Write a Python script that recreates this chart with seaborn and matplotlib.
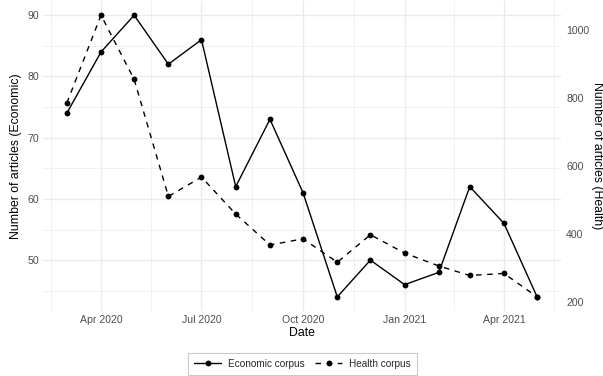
import matplotlib
matplotlib.use("Agg")
import matplotlib.pyplot as plt
import matplotlib.dates as mdates
from matplotlib.lines import Line2D
import numpy as np
import pandas as pd
import seaborn as sns

# ---- data ----
months = ["2020-03-01", "2020-04-01", "2020-05-01", "2020-06-01", "2020-07-01",
          "2020-08-01", "2020-09-01", "2020-10-01", "2020-11-01", "2020-12-01",
          "2021-01-01", "2021-02-01", "2021-03-01", "2021-04-01", "2021-05-01"]
economic = [74, 84, 90, 82, 86, 62, 73, 61, 44, 50, 46, 48, 62, 56, 44]
health = [785, 1044, 855, 510, 567, 458, 367, 385, 316, 397, 343, 305, 277, 283, 214]
x_tick_dates = ["2020-04-01", "2020-07-01", "2020-10-01", "2021-01-01", "2021-04-01"]
x_tick_labels = ["Apr 2020", "Jul 2020", "Oct 2020", "Jan 2021", "Apr 2021"]
econ_ticks = [50, 60, 70, 80, 90]
health_ticks = [200, 400, 600, 800, 1000]
series_labels = ["Economic corpus", "Health corpus"]

df = pd.DataFrame({"date": pd.to_datetime(months), "economic": economic, "health": health})

sns.set_theme(style="white")
plt.rcParams["font.family"] = ["Liberation Sans", "DejaVu Sans"]

fig = plt.figure(figsize=(6.03, 3.76), dpi=100)
ax = fig.add_axes([0.0718, 0.173, 0.8579, 0.824])

sns.lineplot(data=df, x="date", y="economic", ax=ax, color="black", marker="o",
             markersize=4.2, markeredgewidth=0, linewidth=1.0, legend=False)

# limits with 5% expansion
xnum = mdates.date2num(df["date"])
xr = xnum.max() - xnum.min()
ax.set_xlim(xnum.min() - 0.05 * xr, xnum.max() + 0.05 * xr)
emin, emax = min(economic), max(economic)
er = emax - emin
ylo, yhi = emin - 0.05 * er, emax + 0.05 * er
ax.set_ylim(ylo, yhi)

ax2 = ax.twinx()
sns.lineplot(data=df, x="date", y="health", ax=ax2, color="black", marker="o",
             markersize=4.2, markeredgewidth=0, linewidth=1.0, legend=False)
for ln in ax2.get_lines():
    ln.set_linestyle((0, (4, 4)))
hmin, hmax = min(health), max(health)
scale = (hmax - hmin) / er
ax2.set_ylim(hmin + (ylo - emin) * scale, hmin + (yhi - emin) * scale)

# ticks
tick_nums = mdates.date2num(pd.to_datetime(x_tick_dates))
ax.set_xticks(tick_nums)
ax.set_xticklabels(x_tick_labels)
all_major = np.concatenate([[mdates.date2num(pd.Timestamp("2020-01-01"))], tick_nums,
                            [mdates.date2num(pd.Timestamp("2021-07-01"))]])
ax.set_xticks((all_major[:-1] + all_major[1:]) / 2, minor=True)
ax.set_yticks(econ_ticks)
ax.set_yticks([45, 55, 65, 75, 85], minor=True)
ax2.set_yticks(health_ticks)
ax2.set_xlim(ax.get_xlim())

for a in (ax, ax2):
    for s in a.spines.values():
        s.set_visible(False)
    a.tick_params(which="both", length=0, labelsize=7.6, labelcolor="#4D4D4D")
ax.tick_params(axis="y", pad=3)
ax2.tick_params(axis="y", pad=4)
ax.tick_params(axis="x", pad=3)

ax.grid(which="major", color="#EBEBEB", linewidth=1.0)
ax.grid(which="minor", color="#EBEBEB", linewidth=0.5)
ax.set_axisbelow(True)
ax2.grid(False)

ax.set_xlabel("Date", fontsize=8.8, color="black", labelpad=1.5)
ax.set_ylabel("Number of articles (Economic)", fontsize=8.8, color="black", labelpad=4)
ax2.set_ylabel("Number of articles (Health)", fontsize=8.8, color="black",
               rotation=270, va="bottom", labelpad=1.5)

handles = [Line2D([], [], color="black", lw=1.0, marker="o", markersize=4.2, markeredgewidth=0),
           Line2D([], [], color="black", lw=1.0, linestyle=(0, (4, 4)), marker="o",
                  markersize=4.2, markeredgewidth=0)]
leg = fig.legend(handles, series_labels, loc="center", bbox_to_anchor=(0.5017, 0.032),
                 ncol=2, fontsize=7.2, frameon=True, fancybox=False,
                 handlelength=2.7, columnspacing=1.0, handletextpad=0.7,
                 borderpad=0.6, borderaxespad=0, edgecolor="#BDBDBD")
leg.get_frame().set_linewidth(0.8)

fig.savefig("out.png", dpi=100)
